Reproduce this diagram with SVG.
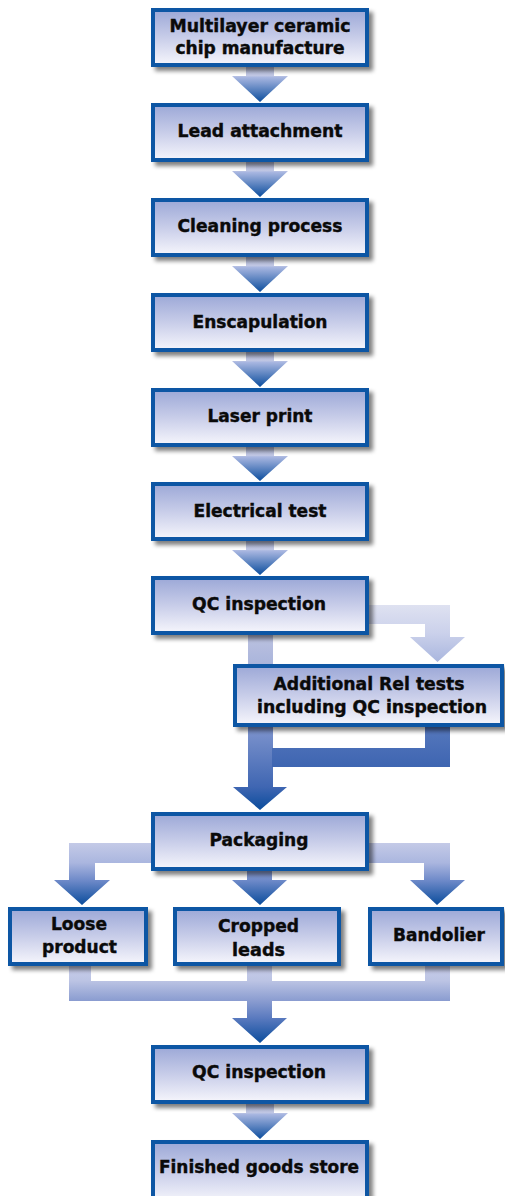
<svg xmlns="http://www.w3.org/2000/svg" width="505" height="1196" viewBox="0 0 505 1196">
  <defs>
    <linearGradient id="boxFill" x1="0" y1="0" x2="0" y2="1">
      <stop offset="0" stop-color="#9ca8d7"/>
      <stop offset="0.5" stop-color="#c8cde9"/>
      <stop offset="1" stop-color="#f6f6fc"/>
    </linearGradient>
    <linearGradient id="smallArrow" x1="0" y1="0" x2="0" y2="1">
      <stop offset="0" stop-color="#b9bfdc"/>
      <stop offset="0.27" stop-color="#c0c7e4"/>
      <stop offset="0.31" stop-color="#a9b7e1"/>
      <stop offset="1" stop-color="#0b4d9d"/>
    </linearGradient>
    <linearGradient id="mainDown" gradientUnits="userSpaceOnUse" x1="0" y1="634" x2="0" y2="810">
      <stop offset="0" stop-color="#bcc2e0"/>
      <stop offset="0.45" stop-color="#8d9fd4"/>
      <stop offset="0.87" stop-color="#3f66b2"/>
      <stop offset="1" stop-color="#0a4c9c"/>
    </linearGradient>
    <linearGradient id="returnPath" gradientUnits="userSpaceOnUse" x1="0" y1="726" x2="0" y2="767">
      <stop offset="0" stop-color="#5678bd"/>
      <stop offset="1" stop-color="#3e65b1"/>
    </linearGradient>
    <linearGradient id="sideBranch" gradientUnits="userSpaceOnUse" x1="0" y1="604" x2="0" y2="662">
      <stop offset="0" stop-color="#dfe2f1"/>
      <stop offset="0.5" stop-color="#cbd1eb"/>
      <stop offset="1" stop-color="#a9b6de"/>
    </linearGradient>
    <linearGradient id="packBranch" gradientUnits="userSpaceOnUse" x1="0" y1="843" x2="0" y2="905">
      <stop offset="0" stop-color="#c4cae7"/>
      <stop offset="0.32" stop-color="#aab6df"/>
      <stop offset="0.6" stop-color="#6f8ac9"/>
      <stop offset="1" stop-color="#0a4c9c"/>
    </linearGradient>
    <linearGradient id="merge" gradientUnits="userSpaceOnUse" x1="0" y1="965" x2="0" y2="1043">
      <stop offset="0" stop-color="#c8cde9"/>
      <stop offset="0.2" stop-color="#bcc4e4"/>
      <stop offset="0.46" stop-color="#8a9cd0"/>
      <stop offset="0.68" stop-color="#5a7abf"/>
      <stop offset="1" stop-color="#0a4c9c"/>
    </linearGradient>
    <filter id="shadow" x="-10%" y="-20%" width="125%" height="150%">
      <feGaussianBlur in="SourceAlpha" stdDeviation="2"/>
      <feOffset dx="4" dy="4" result="blur"/>
      <feComponentTransfer><feFuncA type="linear" slope="0.5"/></feComponentTransfer>
      <feMerge><feMergeNode/><feMergeNode in="SourceGraphic"/></feMerge>
    </filter>
  </defs>
  <style>
    .box { fill: url(#boxFill); stroke: #0b56a4; stroke-width: 4; filter: url(#shadow); }
    .lbl { font-family: "DejaVu Sans", Verdana, sans-serif; font-weight: bold; font-size: 17px; fill: #0a0a0a; stroke: #0a0a0a; stroke-width: 0.4; text-anchor: middle; }
    .sa { fill: url(#smallArrow); }
  </style>

  <g id="connectors">
    <!-- straight flow arrows between stacked steps -->
    <path class="sa" d="M246,66 H274 V76 H288 L260,102 L232,76 H246 Z"/>
    <path class="sa" d="M246,161 H274 V171 H288 L260,197 L232,171 H246 Z"/>
    <path class="sa" d="M246,256 H274 V266 H288 L260,292 L232,266 H246 Z"/>
    <path class="sa" d="M246,351 H274 V361 H288 L260,387 L232,361 H246 Z"/>
    <path class="sa" d="M246,446 H274 V456 H288 L260,481 L232,456 H246 Z"/>
    <path class="sa" d="M246,540 H274 V550 H288 L260,575 L232,550 H246 Z"/>
    <!-- QC inspection to Additional Rel tests -->
    <path fill="url(#sideBranch)" d="M368,605 H450 V637 H465 L437.5,662 L410,637 H425 V624 H368 Z"/>
    <!-- QC inspection down to Packaging -->
    <path fill="url(#mainDown)" d="M248,634 H273 V787 H287 L260,810 L233,787 H248 Z"/>
    <!-- return from Additional Rel tests -->
    <path fill="url(#returnPath)" d="M425,726 H450 V767 H272 V748 H425 Z"/>
    <!-- Packaging branches -->
    <path fill="url(#packBranch)" d="M152,843 H69 V880 H54 L82,905 L110,880 H95 V863 H152 Z"/>
    <path fill="url(#packBranch)" d="M368,843 H450 V880 H465 L437,905 L410,880 H424 V863 H368 Z"/>
    <path fill="url(#packBranch)" d="M247,870 H272 V880 H287 L260,905 L232,880 H247 Z"/>
    <!-- merge of the three packaging styles -->
    <path fill="url(#merge)" d="M69,965 H91 V981 H247 V965 H272 V981 H425 V965 H450 V1001 H272 V1018 H287 L260,1043 L232,1018 H247 V1001 H69 Z"/>
    <path class="sa" d="M246,1103 H274 V1113 H288 L260,1139 L232,1113 H246 Z"/>
  </g>

  <g id="n-chip">
    <rect class="box" x="153" y="10" width="214" height="55"/>
    <text class="lbl" x="260" y="32" textLength="181" lengthAdjust="spacingAndGlyphs">Multilayer ceramic</text>
    <text class="lbl" x="260" y="54" textLength="169" lengthAdjust="spacingAndGlyphs">chip manufacture</text>
  </g>
  <g id="n-lead">
    <rect class="box" x="153" y="105" width="214" height="55"/>
    <text class="lbl" x="260" y="137" textLength="165" lengthAdjust="spacingAndGlyphs">Lead attachment</text>
  </g>
  <g id="n-clean">
    <rect class="box" x="153" y="200" width="214" height="55"/>
    <text class="lbl" x="260" y="232" textLength="165" lengthAdjust="spacingAndGlyphs">Cleaning process</text>
  </g>
  <g id="n-encap">
    <rect class="box" x="153" y="295" width="214" height="55"/>
    <text class="lbl" x="260" y="328" textLength="135" lengthAdjust="spacingAndGlyphs">Enscapulation</text>
  </g>
  <g id="n-laser">
    <rect class="box" x="153" y="390" width="214" height="55"/>
    <text class="lbl" x="260" y="422" textLength="105" lengthAdjust="spacingAndGlyphs">Laser print</text>
  </g>
  <g id="n-elec">
    <rect class="box" x="153" y="484" width="214" height="55"/>
    <text class="lbl" x="260" y="517" textLength="133" lengthAdjust="spacingAndGlyphs">Electrical test</text>
  </g>
  <g id="n-qc1">
    <rect class="box" x="153" y="578" width="214" height="55"/>
    <text class="lbl" x="259" y="610" textLength="134" lengthAdjust="spacingAndGlyphs">QC inspection</text>
  </g>
  <g id="n-rel">
    <rect class="box" x="235" y="666" width="267" height="59"/>
    <text class="lbl" x="369" y="690" textLength="191" lengthAdjust="spacingAndGlyphs">Additional Rel tests</text>
    <text class="lbl" x="372" y="713" textLength="230" lengthAdjust="spacingAndGlyphs">including QC inspection</text>
  </g>
  <g id="n-pack">
    <rect class="box" x="153" y="814" width="214" height="55"/>
    <text class="lbl" x="259" y="846" textLength="99" lengthAdjust="spacingAndGlyphs">Packaging</text>
  </g>
  <g id="n-loose">
    <rect class="box" x="10" y="909" width="136" height="55"/>
    <text class="lbl" x="79" y="930" textLength="56" lengthAdjust="spacingAndGlyphs">Loose</text>
    <text class="lbl" x="79.5" y="953" textLength="75" lengthAdjust="spacingAndGlyphs">product</text>
  </g>
  <g id="n-cropped">
    <rect class="box" x="175" y="909" width="164" height="55"/>
    <text class="lbl" x="258.5" y="932" textLength="81" lengthAdjust="spacingAndGlyphs">Cropped</text>
    <text class="lbl" x="258.5" y="956" textLength="53" lengthAdjust="spacingAndGlyphs">leads</text>
  </g>
  <g id="n-bandolier">
    <rect class="box" x="370" y="909" width="132" height="55"/>
    <text class="lbl" x="439" y="941" textLength="92" lengthAdjust="spacingAndGlyphs">Bandolier</text>
  </g>
  <g id="n-qc2">
    <rect class="box" x="153" y="1047" width="214" height="55"/>
    <text class="lbl" x="259" y="1078" textLength="134" lengthAdjust="spacingAndGlyphs">QC inspection</text>
  </g>
  <g id="n-store">
    <rect class="box" x="153" y="1142" width="214" height="60"/>
    <text class="lbl" x="259" y="1173" textLength="200" lengthAdjust="spacingAndGlyphs">Finished goods store</text>
  </g>
</svg>
